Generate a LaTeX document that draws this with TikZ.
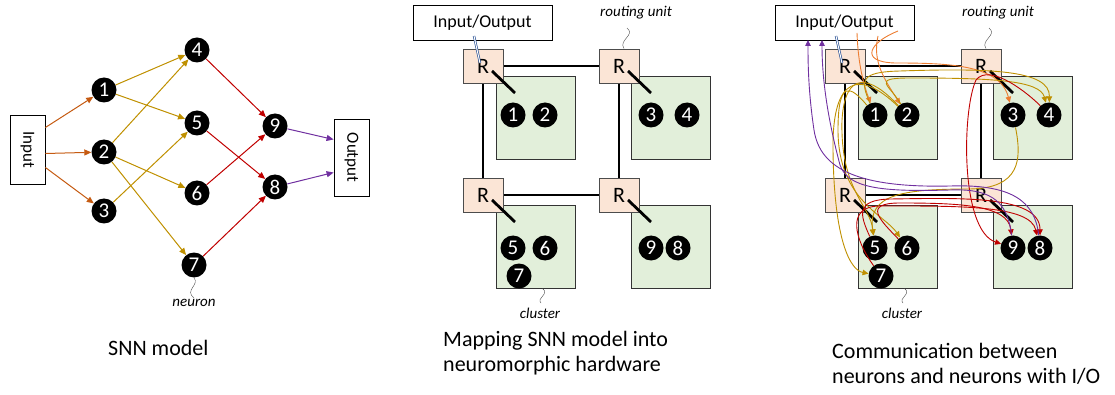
\documentclass[tikz,border=0pt]{standalone}
\usepackage{fontspec}
\setmainfont{Carlito}
\usetikzlibrary{arrows.meta}

\definecolor{inorange}{HTML}{C55A11}
\definecolor{lorange}{HTML}{ED7D31}
\definecolor{gold}{HTML}{BF9000}
\definecolor{synred}{HTML}{C00000}
\definecolor{outpurple}{HTML}{7030A0}
\definecolor{routerfill}{HTML}{FBE5D6}
\definecolor{clusterfill}{HTML}{E2EFDA}
\definecolor{iolink}{HTML}{2F5597}

\newcommand\captfont{\fontsize{22}{25}\selectfont}
\newcommand\notefont{\fontsize{15}{15}\selectfont\itshape}

\tikzset{
    neuron/.style={circle, fill=black, text=white, minimum size=25pt, inner sep=0pt,
        font=\fontsize{21}{21}\selectfont},
    iobox/.style={rectangle, draw, line width=0.8pt, fill=white, inner sep=0pt},
    router/.style={rectangle, draw=black!70, fill=routerfill, line width=0.8pt,
        minimum width=40pt, minimum height=34pt, inner sep=0pt, font=\fontsize{22}{22}\selectfont},
    cluster/.style={rectangle, draw=black!80, fill=clusterfill, line width=0.9pt,
        minimum width=79pt, minimum height=83pt},
    syn/.style={line width=1pt, -{Triangle[length=7pt,width=6pt]}},
    wire/.style={line width=0.9pt, -{Triangle[length=6pt,width=5.5pt]}},
    meshlink/.style={line width=2.8pt},
    iowire/.style={draw=iolink, double=white, double distance=1pt, line width=0.7pt},
    callout/.style={draw=black!70, line width=0.4pt},
    note/.style={inner sep=1pt, font=\notefont}
}

\begin{document}
\begin{tikzpicture}[x=1pt, y=-1pt]
    \useasboundingbox (0,0) rectangle (1115,395);

    % SNN model
    \node[iobox, minimum width=35pt, minimum height=69pt, font=\fontsize{17}{17}\selectfont]
        (in) at (27.5,149.5) {\rotatebox{-90}{Input}};
    \node[iobox, minimum width=35pt, minimum height=77pt, font=\fontsize{17}{17}\selectfont]
        (out) at (351.5,157.5) {\rotatebox{-90}{Output}};
    \foreach \n/\x/\y in {1/104/90, 2/104/152, 3/104/211, 4/197/50, 5/197/123,
                          6/197/193, 7/194/265, 9/275/126, 8/275/187}
        \node[neuron] (a\n) at (\x,\y) {\n};

    \draw[syn, inorange] ([yshift=22pt]in.east) -- (a1);
    \draw[syn, inorange] ([yshift=-4pt]in.east) -- (a2);
    \draw[syn, inorange] ([yshift=-18pt]in.east) -- (a3);
    \path[syn, gold]
        (a1) edge (a4) edge (a5)
        (a2) edge (a4) edge (a6) edge (a7)
        (a3) edge (a5);
    \path[syn, synred]
        (a4) edge (a9)
        (a5) edge (a8)
        (a6) edge (a9)
        (a7) edge (a8);
    \draw[syn, outpurple] (a9) -- ([yshift=18pt]out.west);
    \draw[syn, outpurple] (a8) -- ([yshift=-15pt]out.west);

    \node[note] (nlbl) at (194,303) {neuron};
    \draw[callout] (a7.south) .. controls (200,285) and (184,290) .. (nlbl.north);

    % hardware, twice
    \foreach \p/\dx in {b/0, c/362} {
        \begin{scope}[xshift=\dx]
            \node[iobox, minimum width=139pt, minimum height=35pt, font=\fontsize{18}{18}\selectfont]
                (io\p) at (482.5,22.5) {Input/Output};
            \foreach \k/\x/\y in {a/535.5/117.5, b/671/117.5, c/535.5/246.5, d/671/246.5}
                \node[cluster] (k\k\p) at (\x,\y) {};
            \draw[meshlink] (483,66) -- (619,66) -- (619,195) -- (483,195) -- cycle;
            \foreach \r/\x/\y in {a/483/66, b/619/66, c/483/195, d/619/195} {
                \node[router] (r\r\p) at (\x,\y) {R};
                \draw[meshlink] ([shift={(9,5)}]r\r\p.center) -- ++(23,22);
            }
            \draw[iowire] ([shift={(-8.5,13.5)}]io\p.center) -- ([shift={(-3,-3)}]ra\p.center);
            \foreach \n/\x/\y in {1/513/115, 2/545/115, 3/651/115, 4/687/115,
                                  5/513/248, 6/545/248, 7/519/276, 9/651/248, 8/678/248}
                \node[neuron] (\p\n) at (\x,\y) {\n};

            \node[note] (rlbl\p) at (636,13) {routing unit};
            \coordinate (rtip\p) at (627,28);
            \draw[callout] (rtip\p) .. controls (636,35) and (618,40) .. ([xshift=5pt]rb\p.north);
            \node[note] (clbl\p) at (540,313) {cluster};
            \coordinate (ctip\p) at (541,303);
            \draw[callout] ([xshift=7pt]kc\p.south) .. controls (550,294) and (536,298) .. (ctip\p);
        \end{scope}
    }

    % communication: input -> 1,2,3
    \coordinate (inA) at (857,33);
    \coordinate (inB) at (878,36);
    \coordinate (inC) at (898,31);
    \draw[wire, lorange] (inA) .. controls (858,60) and (862,80) .. (c1);
    \draw[wire, lorange] (inB) .. controls (872,62) and (885,80) .. (c2);
    \draw[wire, lorange] (inC) .. controls (870,42) and (858,62) .. (895,63)
        .. controls (950,63) and (1000,65) .. (c3);

    % 1,2,3 -> 4,5,6,7
    \draw[wire, gold] (c1) .. controls (860,80) and (860,72) .. (900,71)
        .. controls (990,68) and (1050,70) .. (c4);
    \draw[wire, gold] (c2) .. controls (890,85) and (870,78) .. (910,78)
        .. controls (990,78) and (1040,80) .. (c4);
    \draw[wire, gold] (c2) .. controls (870,75) and (845,70) .. (842,120)
        .. controls (840,190) and (870,205) .. (c5);
    \draw[wire, gold] (c1) .. controls (850,85) and (838,80) .. (838,130)
        .. controls (838,200) and (885,215) .. (c6);
    \draw[wire, gold] (c2) .. controls (860,70) and (832,75) .. (833,150)
        .. controls (834,240) and (850,270) .. (c7);
    \draw[wire, gold] (c3) .. controls (1022,160) and (1020,188) .. (970,189)
        .. controls (900,189) and (868,195) .. (c5);

    % 4,5,6,7 -> 9,8
    \draw[wire, synred] (c4) .. controls (1030,95) and (990,62) .. (976,80)
        .. controls (962,110) and (960,230) .. (c9);
    \draw[wire, synred] (c5) .. controls (860,215) and (855,200) .. (890,199)
        .. controls (960,198) and (1040,195) .. (c8);
    \draw[wire, synred] (c6) .. controls (880,220) and (862,203) .. (900,203)
        .. controls (960,203) and (1008,205) .. (c9);
    \draw[wire, synred] (c7) .. controls (855,240) and (845,206) .. (880,206)
        .. controls (960,206) and (1030,205) .. (c8);

    % 9,8 -> output
    \coordinate (outA) at (808,40);
    \coordinate (outB) at (822,40);
    \draw[wire, outpurple] (c9) .. controls (1008,205) and (995,188) .. (950,190)
        .. controls (880,192) and (848,188) .. (840,165)
        .. controls (828,120) and (822,80) .. (outB);
    \draw[wire, outpurple] (c8) .. controls (1035,200) and (1010,184) .. (950,186)
        .. controls (860,188) and (820,170) .. (814,130)
        .. controls (808,90) and (808,60) .. (outA);

    % captions
    \node[anchor=north west, inner sep=0pt, font=\captfont] (capa) at (108,340) {SNN model};
    \node[anchor=north west, inner sep=0pt, align=left, font=\captfont] (capb) at (443,331)
        {Mapping SNN model into\\neuromorphic hardware};
    \node[anchor=north west, inner sep=0pt, align=left, font=\captfont] (capc) at (832,343)
        {Communication between\\neurons and neurons with I/O};
\end{tikzpicture}
\end{document}
